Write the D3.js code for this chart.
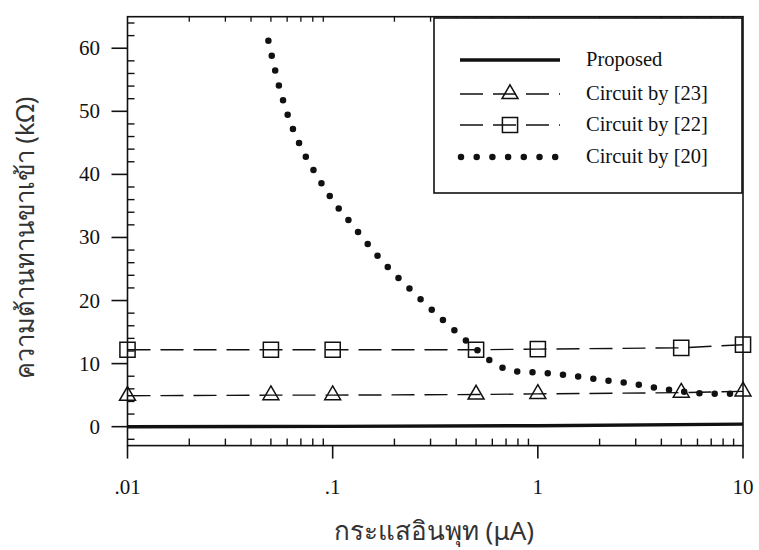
<!DOCTYPE html>
<html>
<head>
<meta charset="utf-8">
<script src="https://cdn.jsdelivr.net/npm/d3@7"></script>
<style>
  html, body { margin: 0; padding: 0; background: #fff; }
  svg { display: block; }
  .serif { font-family: "Liberation Serif", "Times New Roman", serif; fill: #111; }
  .thai { font-family: "Noto Sans", "DejaVu Sans", sans-serif; fill: #333; }
</style>
</head>
<body>
<svg id="chart" width="759" height="550"></svg>
<script>
// Input current (uA) vs. input resistance (kOhm)
const markerX = [0.01, 0.05, 0.1, 0.5, 1, 5, 10];
const circuit23 = [4.9, 5.0, 5.0, 5.1, 5.2, 5.4, 5.6];
const circuit22 = [12.2, 12.2, 12.2, 12.2, 12.3, 12.5, 13.0];

const proposedX = [0.01, 0.1, 1, 10];
const proposed = [0.0, 0.05, 0.15, 0.4];

const circuit20X = [0.0486, 0.0548, 0.0607, 0.0696, 0.0837, 0.1047, 0.119, 0.182, 0.253, 0.356,
                    0.50, 0.596, 0.705, 0.834, 0.99, 1.40, 1.97, 2.76, 3.89, 5.46, 7.71, 10];
const circuit20 = [61.2, 54.0, 49.2, 44.5, 39.8, 35.0, 32.8, 25.6, 21.0, 16.5,
                   12.3, 10.3, 9.1, 8.7, 8.6, 8.15, 7.5, 6.9, 6.1, 5.45, 5.2, 5.3];

const xTickValues = [0.01, 0.1, 1, 10];
const xTickLabels = [".01", ".1", "1", "10"];
const yTickValues = [0, 10, 20, 30, 40, 50, 60];

const legendLabels = ["Proposed", "Circuit by [23]", "Circuit by [22]", "Circuit by [20]"];
const xTitle = "กระแสอินพุท (μA)";
const yTitle = "ความต้านทานขาเข้า (kΩ)";

const svg = d3.select("#chart");
const L = 127.5, R = 743, T = 16.7, B = 445.6;

const x = d3.scaleLog().domain([0.01, 10]).range([L, R]);
const y = d3.scaleLinear().domain([-3, 65]).range([B, T]);

// minor tick positions for the log axis
const minorX = [];
[0.01, 0.1, 1].forEach(d => { for (let k = 2; k <= 9; k++) minorX.push(d * k); });
const minorY = d3.range(-2, 65, 2).filter(v => v % 10 !== 0);

const ax = svg.append("g").attr("stroke", "#111").attr("fill", "none");

// frame
ax.append("rect").attr("x", L).attr("y", T).attr("width", R - L).attr("height", B - T)
  .attr("stroke-width", 1.6);

// bottom axis: major ticks outward, minor ticks inward
ax.selectAll(".xmaj").data(xTickValues).join("line")
  .attr("x1", d => x(d)).attr("x2", d => x(d)).attr("y1", B).attr("y2", B + 13)
  .attr("stroke-width", 1.6);
ax.selectAll(".xmin").data(minorX).join("line")
  .attr("x1", d => x(d)).attr("x2", d => x(d)).attr("y1", B).attr("y2", B - 7)
  .attr("stroke-width", 1.4);
// top axis: minor ticks inward
ax.selectAll(".xmint").data(minorX).join("line")
  .attr("x1", d => x(d)).attr("x2", d => x(d)).attr("y1", T).attr("y2", T + 5)
  .attr("stroke-width", 1.3);

// left axis
ax.selectAll(".ymaj").data(yTickValues).join("line")
  .attr("x1", L - 16).attr("x2", L).attr("y1", d => y(d)).attr("y2", d => y(d))
  .attr("stroke-width", 1.6);
ax.selectAll(".ymin").data(minorY).join("line")
  .attr("x1", L).attr("x2", L + 7).attr("y1", d => y(d)).attr("y2", d => y(d))
  .attr("stroke-width", 1.4);

// tick labels
svg.selectAll(".xlab").data(xTickValues).join("text")
  .attr("class", "serif").attr("x", d => x(d)).attr("y", 494)
  .attr("text-anchor", "middle").attr("font-size", 21)
  .text((d, i) => xTickLabels[i]);
svg.selectAll(".ylab").data(yTickValues).join("text")
  .attr("class", "serif").attr("x", 100).attr("y", d => y(d) + 7)
  .attr("text-anchor", "end").attr("font-size", 21)
  .text(d => d);

// axis titles
svg.append("text").attr("class", "thai")
  .attr("x", 434).attr("y", 540).attr("text-anchor", "middle").attr("font-size", 26)
  .text(xTitle);
svg.append("text").attr("class", "thai")
  .attr("transform", "translate(34,238) rotate(-90)")
  .attr("text-anchor", "middle").attr("font-size", 25.5)
  .text(yTitle);

// series
const line = d3.line().x(d => x(d[0])).y(d => y(d[1]));
const zip = (a, b) => a.map((v, i) => [v, b[i]]);

const plot = svg.append("g").attr("fill", "none").attr("stroke", "#111");

plot.append("path").datum(zip(proposedX, proposed)).attr("d", line)
  .attr("stroke-width", 3.4);

plot.append("path").datum(zip(markerX, circuit23)).attr("d", line)
  .attr("stroke-width", 1.4).attr("stroke-dasharray", "23,10");
plot.append("path").datum(zip(markerX, circuit22)).attr("d", line)
  .attr("stroke-width", 1.4).attr("stroke-dasharray", "23,10");

plot.append("path").datum(zip(circuit20X, circuit20))
  .attr("d", line.curve(d3.curveMonotoneX))
  .attr("stroke-width", 6.5).attr("stroke-linecap", "round")
  .attr("stroke-dasharray", "0,15.3");
line.curve(d3.curveLinear);

const tri = d3.symbol(d3.symbolTriangle, 110)();
const sq = d3.symbol(d3.symbolSquare, 230)();

plot.selectAll(".tri").data(zip(markerX, circuit23)).join("path")
  .attr("d", tri).attr("transform", d => `translate(${x(d[0])},${y(d[1])})`)
  .attr("stroke-width", 1.5);
plot.selectAll(".sq").data(zip(markerX, circuit22)).join("path")
  .attr("d", sq).attr("transform", d => `translate(${x(d[0])},${y(d[1])})`)
  .attr("stroke-width", 1.5);

// legend
const lg = svg.append("g");
lg.append("rect").attr("x", 434).attr("y", 18).attr("width", 308).attr("height", 175)
  .attr("fill", "#fff").attr("stroke", "#111").attr("stroke-width", 1.6);
const rowsY = [60, 94, 125, 157];
const lx0 = 460, lx1 = 560, lmid = 510;
lg.append("line").attr("x1", lx0).attr("x2", lx1).attr("y1", rowsY[0]).attr("y2", rowsY[0])
  .attr("stroke", "#111").attr("stroke-width", 3.4);
[1, 2].forEach(i => {
  lg.append("line").attr("x1", lx0).attr("x2", lx1).attr("y1", rowsY[i]).attr("y2", rowsY[i])
    .attr("stroke", "#111").attr("stroke-width", 1.4).attr("stroke-dasharray", "23,10");
  lg.append("path").attr("d", i === 1 ? tri : sq)
    .attr("transform", `translate(${lmid},${rowsY[i]})`)
    .attr("fill", "none").attr("stroke", "#111").attr("stroke-width", 1.5);
});
lg.append("line").attr("x1", 461).attr("x2", 556).attr("y1", rowsY[3]).attr("y2", rowsY[3])
  .attr("stroke", "#111").attr("stroke-width", 6.5).attr("stroke-linecap", "round")
  .attr("stroke-dasharray", "0,15.7");
lg.selectAll(".lt").data(legendLabels).join("text")
  .attr("class", "serif").attr("x", 586).attr("y", (d, i) => rowsY[i] + 6)
  .attr("font-size", 20.5).text(d => d);
</script>
</body>
</html>
